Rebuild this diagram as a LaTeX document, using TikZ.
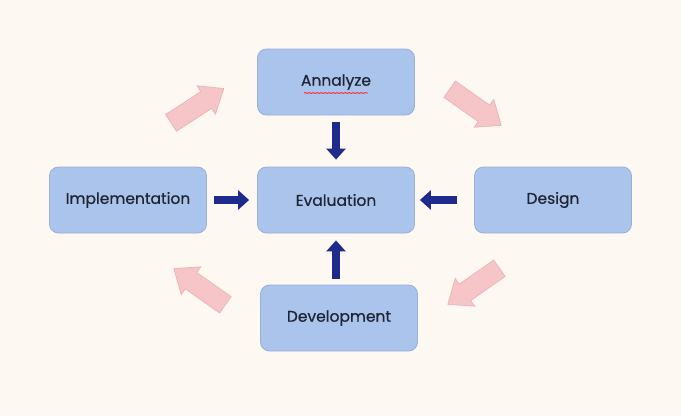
\documentclass[tikz,border=0pt]{standalone}
\usepackage{fontspec}
\setmainfont{Poppins}
\newfontfamily\boxfont{Poppins}[FakeBold=0.5]
\usetikzlibrary{arrows.meta,decorations.pathmorphing}
\definecolor{bgc}{HTML}{FDF8F1}
\definecolor{boxfill}{HTML}{ABC4EB}
\definecolor{boxline}{HTML}{93B0DF}
\definecolor{navy}{HTML}{1E2A8C}
\definecolor{pinkf}{HTML}{F6C5C7}
\definecolor{pinkd}{HTML}{EAAEB2}
\definecolor{txt}{HTML}{1E2433}
\tikzset{
  stagebox/.style={draw=boxline, line width=0.8pt, fill=boxfill, rounded corners=9pt,
    minimum width=157pt, minimum height=66pt, inner sep=0pt, text=txt,
    font=\boxfont\fontsize{15.5}{17}\selectfont},
  bluearrow/.style={draw=navy, line width=7.5pt,
    -{Triangle[length=11pt,width=19pt]}},
  pinkarrow/.style={fill=pinkf, draw=pinkd, line width=0.6pt, line join=miter}
}
\newcommand{\pinkblock}[3]{%
  \begin{scope}[shift={(#1,#2)}, rotate=#3]
    \draw[pinkarrow] (-31,-10) -- (11,-10) -- (11,-17) -- (32,0) -- (11,17) -- (11,10) -- (-31,10) -- cycle;
  \end{scope}}
\begin{document}
\begin{tikzpicture}[x=1pt,y=-1pt]
  \fill[bgc] (0,0) rectangle (681,416);
  \useasboundingbox (0,0) rectangle (681,416);
  \node[stagebox] (ann) at (336,82) {Annalyze};
  \node[stagebox] (eva) at (336,200) {Evaluation};
  \node[stagebox] (imp) at (128,200) {Implementation};
  \node[stagebox] (des) at (553,200) {Design};
  \node[stagebox] (dev) at (339,318) {Development};
  % spell-check underline
  \draw[red!80!pink, line width=0.9pt, decorate,
        decoration={snake, amplitude=0.4pt, segment length=4pt}]
    ([xshift=-32pt,yshift=-11pt]ann.center) -- ([xshift=32pt,yshift=-11pt]ann.center);
  % blue arrows
  \draw[bluearrow, shorten <=7pt, shorten >=7pt] (ann.south) -- (eva.north);
  \draw[bluearrow, shorten <=7pt, shorten >=8pt] (imp.east) -- (eva.west);
  \draw[bluearrow, shorten <=17pt, shorten >=5pt] (des.west) -- (eva.east);
  \draw[bluearrow, shorten <=6pt, shorten >=7pt] (dev.north -| eva.south) -- (eva.south);
  % pink cycle arrows
  \pinkblock{197}{106}{33}
  \pinkblock{475}{107}{-35}
  \pinkblock{474}{286}{-145}
  \pinkblock{200}{287}{145}
\end{tikzpicture}
\end{document}
